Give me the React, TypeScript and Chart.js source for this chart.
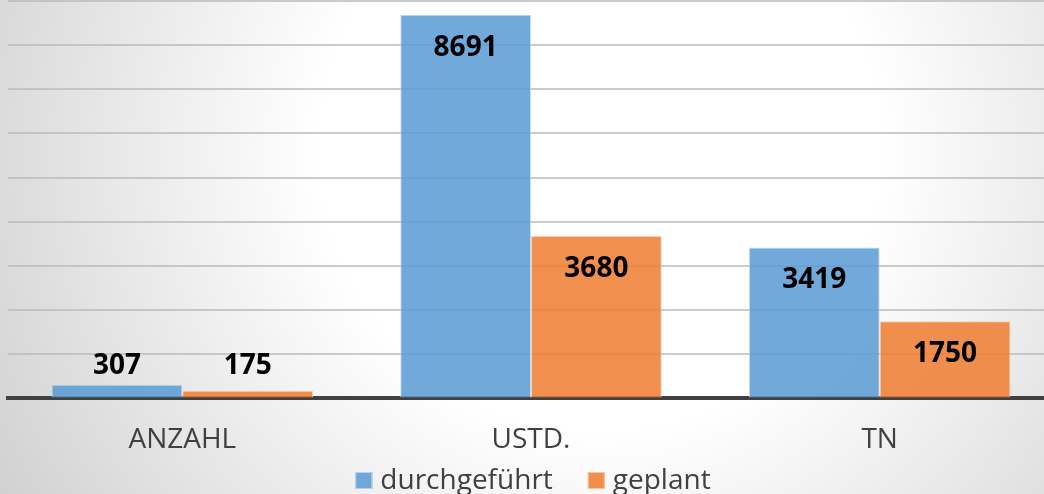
import React, { useEffect, useRef } from "react";
import { Chart, registerables } from "chart.js";

Chart.register(...registerables);

const categories = ["ANZAHL", "USTD.", "TN"];
const seriesNames = ["durchgeführt", "geplant"];
const durchgefuehrt = [307, 8691, 3419];
const geplant = [175, 3680, 1750];
const yMax = 9000;
const yStep = 1000;

const FONT = "'Open Sans', 'DejaVu Sans', sans-serif";
const BLUE = "rgba(91,155,213,0.86)";
const BLUE_BORDER = "rgba(190,215,238,0.9)";
const ORANGE = "rgba(237,125,49,0.86)";
const ORANGE_BORDER = "rgba(248,203,173,0.9)";

const backgroundPlugin = {
  id: "bgGradient",
  beforeDraw(chart: any) {
    const { ctx, width, height } = chart;
    ctx.save();
    const g = ctx.createRadialGradient(600, 150, 0, 600, 150, 700);
    g.addColorStop(0, "#ffffff");
    g.addColorStop(0.4, "#ffffff");
    g.addColorStop(1, "#d0d0d0");
    ctx.fillStyle = g;
    ctx.fillRect(0, 0, width, height);
    ctx.restore();
  },
};

const valueLabelPlugin = {
  id: "valueLabels",
  afterDatasetsDraw(chart: any) {
    const { ctx } = chart;
    ctx.save();
    ctx.font = `bold 28px ${FONT}`;
    ctx.fillStyle = "#000000";
    ctx.textAlign = "center";
    ctx.textBaseline = "middle";
    chart.data.datasets.forEach((ds: any, di: number) => {
      const meta = chart.getDatasetMeta(di);
      meta.data.forEach((bar: any, i: number) => {
        const h = bar.base - bar.y;
        const y = h > 70 ? bar.y + 33 : bar.base - 31;
        ctx.fillText(String(ds.data[i]), bar.x, y);
      });
    });
    ctx.restore();
  },
};

const legendPlugin = {
  id: "customLegend",
  afterDraw(chart: any) {
    const { ctx, chartArea } = chart;
    ctx.save();
    ctx.font = `28px ${FONT}`;
    const box = 17;
    const gapText = 8;
    const gapItem = 35;
    const colors = [BLUE, ORANGE];
    const borders = [BLUE_BORDER, ORANGE_BORDER];
    const widths = seriesNames.map((n) => ctx.measureText(n).width);
    let total = 0;
    widths.forEach((w, i) => {
      total += box + gapText + w + (i < widths.length - 1 ? gapItem : 0);
    });
    const center = (chartArea.left + chartArea.right) / 2 + 2;
    let x = center - total / 2;
    const baseline = 489;
    seriesNames.forEach((n, i) => {
      ctx.fillStyle = colors[i];
      ctx.fillRect(x, 472, box, box);
      ctx.strokeStyle = borders[i];
      ctx.lineWidth = 1;
      ctx.strokeRect(x + 0.5, 472.5, box - 1, box - 1);
      x += box + gapText;
      ctx.fillStyle = "#404040";
      ctx.textAlign = "left";
      ctx.textBaseline = "alphabetic";
      ctx.fillText(n, x, baseline);
      x += widths[i] + gapItem;
    });
    ctx.restore();
  },
};

export default function App() {
  const canvasRef = useRef<HTMLCanvasElement | null>(null);

  useEffect(() => {
    if (!canvasRef.current) return;
    const chart = new Chart(canvasRef.current, {
      type: "bar",
      data: {
        labels: categories,
        datasets: [
          {
            label: seriesNames[0],
            data: durchgefuehrt,
            backgroundColor: BLUE,
            borderColor: BLUE_BORDER,
            borderWidth: 1,
            categoryPercentage: 0.75,
            barPercentage: 1.0,
          },
          {
            label: seriesNames[1],
            data: geplant,
            backgroundColor: ORANGE,
            borderColor: ORANGE_BORDER,
            borderWidth: 1,
            categoryPercentage: 0.75,
            barPercentage: 1.0,
          },
        ],
      },
      options: {
        responsive: false,
        animation: false,
        devicePixelRatio: 1,
        layout: { padding: { top: 1, left: 8, right: 6, bottom: 12 } },
        plugins: {
          legend: { display: false },
          tooltip: { enabled: false },
        },
        scales: {
          x: {
            grid: { display: false, drawTicks: false },
            border: { display: true, color: "#404040", width: 4 },
            ticks: {
              color: "#404040",
              font: { family: FONT, size: 28 },
              padding: 25,
            },
          },
          y: {
            min: 0,
            max: yMax,
            grid: {
              color: "rgba(185,185,185,0.75)",
              lineWidth: 2,
              drawTicks: false,
            },
            border: { display: false },
            ticks: { display: false, stepSize: yStep },
          },
        },
      },
      plugins: [backgroundPlugin, valueLabelPlugin, legendPlugin],
    });
    return () => chart.destroy();
  }, []);

  return (
    <div
      style={{
        position: "fixed",
        left: 0,
        top: 0,
        width: 1044,
        height: 494,
        overflow: "hidden",
      }}
    >
      <canvas
        ref={canvasRef}
        width={1060}
        height={494}
        style={{ display: "block", width: 1060, height: 494 }}
      />
    </div>
  );
}
